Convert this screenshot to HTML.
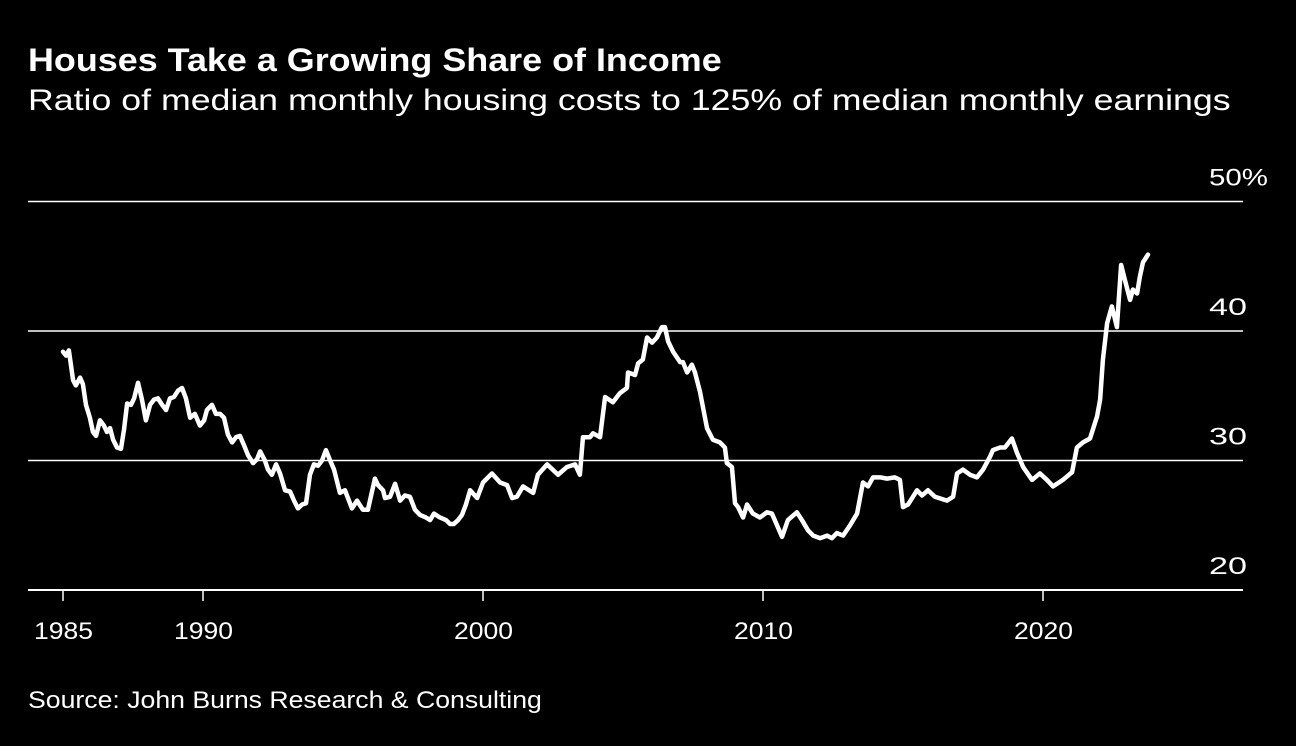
<!DOCTYPE html>
<html><head><meta charset="utf-8"><style>
body{margin:0;background:#000;width:1296px;height:746px;overflow:hidden;font-family:"Liberation Sans",sans-serif;color:#fff}
.t{position:absolute;left:28px;transform-origin:0 0;white-space:nowrap}
#title{top:42px;font-size:32px;font-weight:bold;transform:scaleX(1.122)}
#sub{top:84px;font-size:30px;transform:scaleX(1.19)}
#src{top:687px;font-size:24px;transform:scaleX(1.11)}
svg{position:absolute;left:0;top:0}
</style></head><body>
<div id="title" class="t">Houses Take a Growing Share of Income</div>
<div id="sub" class="t">Ratio of median monthly housing costs to 125% of median monthly earnings</div>
<div id="src" class="t">Source: John Burns Research &amp; Consulting</div>
<svg id="chart" width="1296" height="746"></svg>
<script>
const yTicks=[20,30,40,50];
const yTickLabels=["20","30","40","50%"];
const xTicks=[1985,1990,2000,2010,2020];
const xTickLabels=["1985","1990","2000","2010","2020"];
const years=[1985.00,1985.11,1985.21,1985.36,1985.46,1985.61,1985.71,1985.82,1985.96,1986.07,1986.18,1986.32,1986.46,1986.57,1986.68,1986.79,1986.93,1987.07,1987.18,1987.29,1987.43,1987.54,1987.68,1987.82,1987.96,1988.11,1988.25,1988.39,1988.54,1988.68,1988.82,1988.96,1989.11,1989.25,1989.39,1989.54,1989.71,1989.89,1990.04,1990.14,1990.32,1990.46,1990.61,1990.75,1990.89,1991.04,1991.18,1991.32,1991.46,1991.61,1991.79,1991.93,1992.04,1992.21,1992.32,1992.46,1992.61,1992.75,1992.93,1993.11,1993.25,1993.39,1993.54,1993.68,1993.82,1993.96,1994.11,1994.25,1994.39,1994.54,1994.68,1994.89,1995.07,1995.32,1995.50,1995.71,1995.89,1996.14,1996.25,1996.43,1996.50,1996.68,1996.86,1997.04,1997.21,1997.39,1997.57,1997.75,1997.96,1998.11,1998.25,1998.46,1998.68,1998.82,1998.96,1999.11,1999.25,1999.39,1999.54,1999.79,2000.00,2000.32,2000.61,2000.86,2001.04,2001.21,2001.43,2001.79,2001.96,2002.29,2002.68,2003.00,2003.29,2003.46,2003.57,2003.82,2003.93,2004.18,2004.36,2004.64,2004.89,2005.14,2005.18,2005.43,2005.54,2005.71,2005.86,2006.04,2006.21,2006.39,2006.50,2006.61,2006.79,2007.04,2007.14,2007.29,2007.46,2007.57,2007.75,2008.00,2008.21,2008.46,2008.64,2008.71,2008.89,2009.00,2009.11,2009.29,2009.43,2009.64,2009.89,2010.14,2010.32,2010.50,2010.68,2010.89,2011.21,2011.39,2011.61,2011.79,2012.04,2012.29,2012.46,2012.64,2012.86,2013.11,2013.36,2013.57,2013.75,2013.93,2014.18,2014.43,2014.71,2014.89,2015.00,2015.18,2015.50,2015.68,2015.89,2016.14,2016.57,2016.79,2016.93,2017.14,2017.39,2017.64,2017.86,2018.11,2018.21,2018.46,2018.64,2018.89,2019.07,2019.29,2019.61,2019.89,2020.14,2020.36,2020.71,2021.04,2021.21,2021.43,2021.68,2021.93,2022.04,2022.14,2022.29,2022.46,2022.64,2022.79,2022.93,2023.11,2023.21,2023.36,2023.46,2023.57,2023.75];
const values=[38.4,38.1,38.5,36.2,35.8,36.4,35.9,34.3,33.3,32.2,31.9,33.1,32.7,32.2,32.5,31.6,31.0,30.9,32.4,34.4,34.3,34.8,36.0,34.7,33.1,34.3,34.7,34.8,34.3,33.9,34.8,34.9,35.4,35.6,34.8,33.3,33.6,32.7,33.1,33.9,34.3,33.6,33.6,33.3,32.0,31.4,31.8,31.9,31.2,30.4,29.8,30.1,30.7,30.0,29.3,28.9,29.7,29.0,27.7,27.6,26.9,26.3,26.6,26.7,28.9,29.7,29.6,30.0,30.8,30.0,29.3,27.5,27.7,26.3,26.9,26.2,26.2,28.6,28.1,27.7,27.1,27.2,28.2,26.9,27.3,27.2,26.2,25.8,25.6,25.4,25.9,25.6,25.4,25.1,25.1,25.4,25.8,26.6,27.7,27.1,28.3,29.0,28.3,28.1,27.1,27.2,28.0,27.5,28.9,29.7,28.9,29.5,29.7,28.9,31.8,31.8,32.1,31.8,34.9,34.5,35.2,35.6,36.8,36.6,37.5,37.8,39.5,39.1,39.5,40.3,40.3,39.2,38.4,37.6,37.6,36.8,37.4,36.8,35.3,32.5,31.6,31.4,31.0,29.8,29.5,26.7,26.4,25.6,26.6,25.9,25.6,26.0,25.9,25.0,24.1,25.4,26.0,25.4,24.6,24.2,24.0,24.2,24.0,24.4,24.2,25.0,25.9,28.3,28.0,28.7,28.7,28.6,28.7,28.5,26.4,26.6,27.7,27.3,27.7,27.2,26.9,27.2,29.0,29.3,28.9,28.7,29.3,30.3,30.8,31.0,31.0,31.7,30.6,29.5,28.5,29.0,28.5,28.0,28.5,29.1,31.0,31.4,31.7,33.4,34.7,37.8,40.6,41.9,40.3,45.1,43.9,42.4,43.2,42.9,44.2,45.3,45.9];
const svg=document.getElementById('chart');
const NS='http://www.w3.org/2000/svg';
function xs(y){return 63+(y-1985)*28;}
function ys(v){return 590-(v-20)*12.95;}
function mk(t,a){const e=document.createElementNS(NS,t);for(const k in a)e.setAttribute(k,a[k]);svg.appendChild(e);return e;}
yTicks.forEach((v,i)=>{
  const l=mk('line',{x1:28,x2:1243,y1:ys(v),y2:ys(v),stroke:'#fff','stroke-width':i==0?2:1.5});
  
  
  const lab=yTickLabels[i];
  const t=mk('text',{x:1209,y:ys(v)-16,fill:'#fff','font-size':24,textLength:lab.length==3?59:38,lengthAdjust:'spacingAndGlyphs','font-family':'Liberation Sans, sans-serif'});
  t.textContent=lab;
  
  
});
xTicks.forEach((y,i)=>{
  const l=mk('line',{x1:xs(y),x2:xs(y),y1:590,y2:601,stroke:'#fff','stroke-width':1.5});
  
  
  const t=mk('text',{x:xs(y)-29,y:639,fill:'#fff','font-size':24,textLength:59,lengthAdjust:'spacingAndGlyphs','font-family':'Liberation Sans, sans-serif'});
  t.textContent=xTickLabels[i];
  
  
});
const p=mk('polyline',{points:years.map((y,i)=>xs(y)+','+ys(values[i])).join(' '),fill:'none',stroke:'#fff','stroke-width':4.5,'stroke-linejoin':'round','stroke-linecap':'round'});


</script>
</body></html>
